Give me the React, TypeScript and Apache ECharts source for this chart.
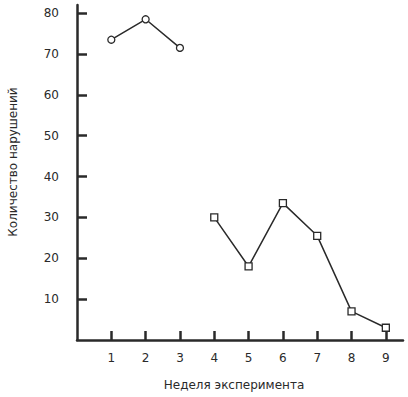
import React, { useEffect, useRef } from "react";
import * as echarts from "echarts";

const weeks = [1, 2, 3, 4, 5, 6, 7, 8, 9];
const weekLabels = ["1", "2", "3", "4", "5", "6", "7", "8", "9"];
const yTicks = [10, 20, 30, 40, 50, 60, 70, 80];
const baselineWeeks = [1, 2, 3];
const baselineValues = [73.5, 78.5, 71.5];
const experimentWeeks = [4, 5, 6, 7, 8, 9];
const experimentValues = [30, 18, 33.5, 25.5, 7, 3];
const xTitle = "Неделя эксперимента";
const yTitle = "Количество нарушений";

const ink = "#2a2a2a";
const font = "DejaVu Sans";

export default function App() {
  const ref = useRef<HTMLDivElement>(null);
  useEffect(() => {
    if (!ref.current) return;
    const chart = echarts.init(ref.current, null, { renderer: "svg" });
    chart.setOption({
      animation: false,
      grid: { left: 77, right: 5, top: 5, bottom: 57 },
      xAxis: {
        type: "value",
        min: 0,
        max: 9.5,
        interval: 1,
        axisLine: { show: true, onZero: false, lineStyle: { color: ink, width: 2.5 } },
        axisTick: {
          show: true,
          inside: true,
          length: 9,
          customValues: weeks,
          lineStyle: { color: ink, width: 2.5 },
        },
        axisLabel: {
          customValues: weeks,
          formatter: (v: number) => weekLabels[weeks.indexOf(v)] ?? "",
          margin: 12,
          color: ink,
          fontFamily: font,
          fontSize: 12,
        },
        splitLine: { show: false },
      },
      yAxis: {
        type: "value",
        min: 0,
        max: 82,
        interval: 10,
        axisLine: { show: true, lineStyle: { color: ink, width: 2.5 } },
        axisTick: {
          show: true,
          inside: true,
          length: 10,
          customValues: yTicks,
          lineStyle: { color: ink, width: 2.5 },
        },
        axisLabel: {
          customValues: yTicks,
          margin: 18,
          color: ink,
          fontFamily: font,
          fontSize: 12,
        },
        splitLine: { show: false },
      },
      graphic: [
        {
          type: "text",
          x: 234,
          y: 385,
          style: {
            text: xTitle,
            fill: ink,
            font: `12px "${font}"`,
            textAlign: "center",
            textVerticalAlign: "middle",
          },
        },
        {
          type: "text",
          x: 13,
          y: 162,
          rotation: Math.PI / 2,
          style: {
            text: yTitle,
            fill: ink,
            font: `12px "${font}"`,
            textAlign: "center",
            textVerticalAlign: "middle",
          },
        },
      ],
      series: [
        {
          type: "line",
          data: baselineWeeks.map((w, i) => [w, baselineValues[i]]),
          symbol: "circle",
          symbolSize: 7,
          itemStyle: { color: "#fff", borderColor: ink, borderWidth: 1.3 },
          lineStyle: { color: ink, width: 1.5 },
        },
        {
          type: "line",
          data: experimentWeeks.map((w, i) => [w, experimentValues[i]]),
          symbol: "rect",
          symbolSize: 7,
          itemStyle: { color: "#fff", borderColor: ink, borderWidth: 1.3 },
          lineStyle: { color: ink, width: 1.5 },
        },
      ],
    });
    return () => chart.dispose();
  }, []);
  return <div ref={ref} style={{ width: 408, height: 397, position: "absolute", left: 0, top: 0 }} />;
}
